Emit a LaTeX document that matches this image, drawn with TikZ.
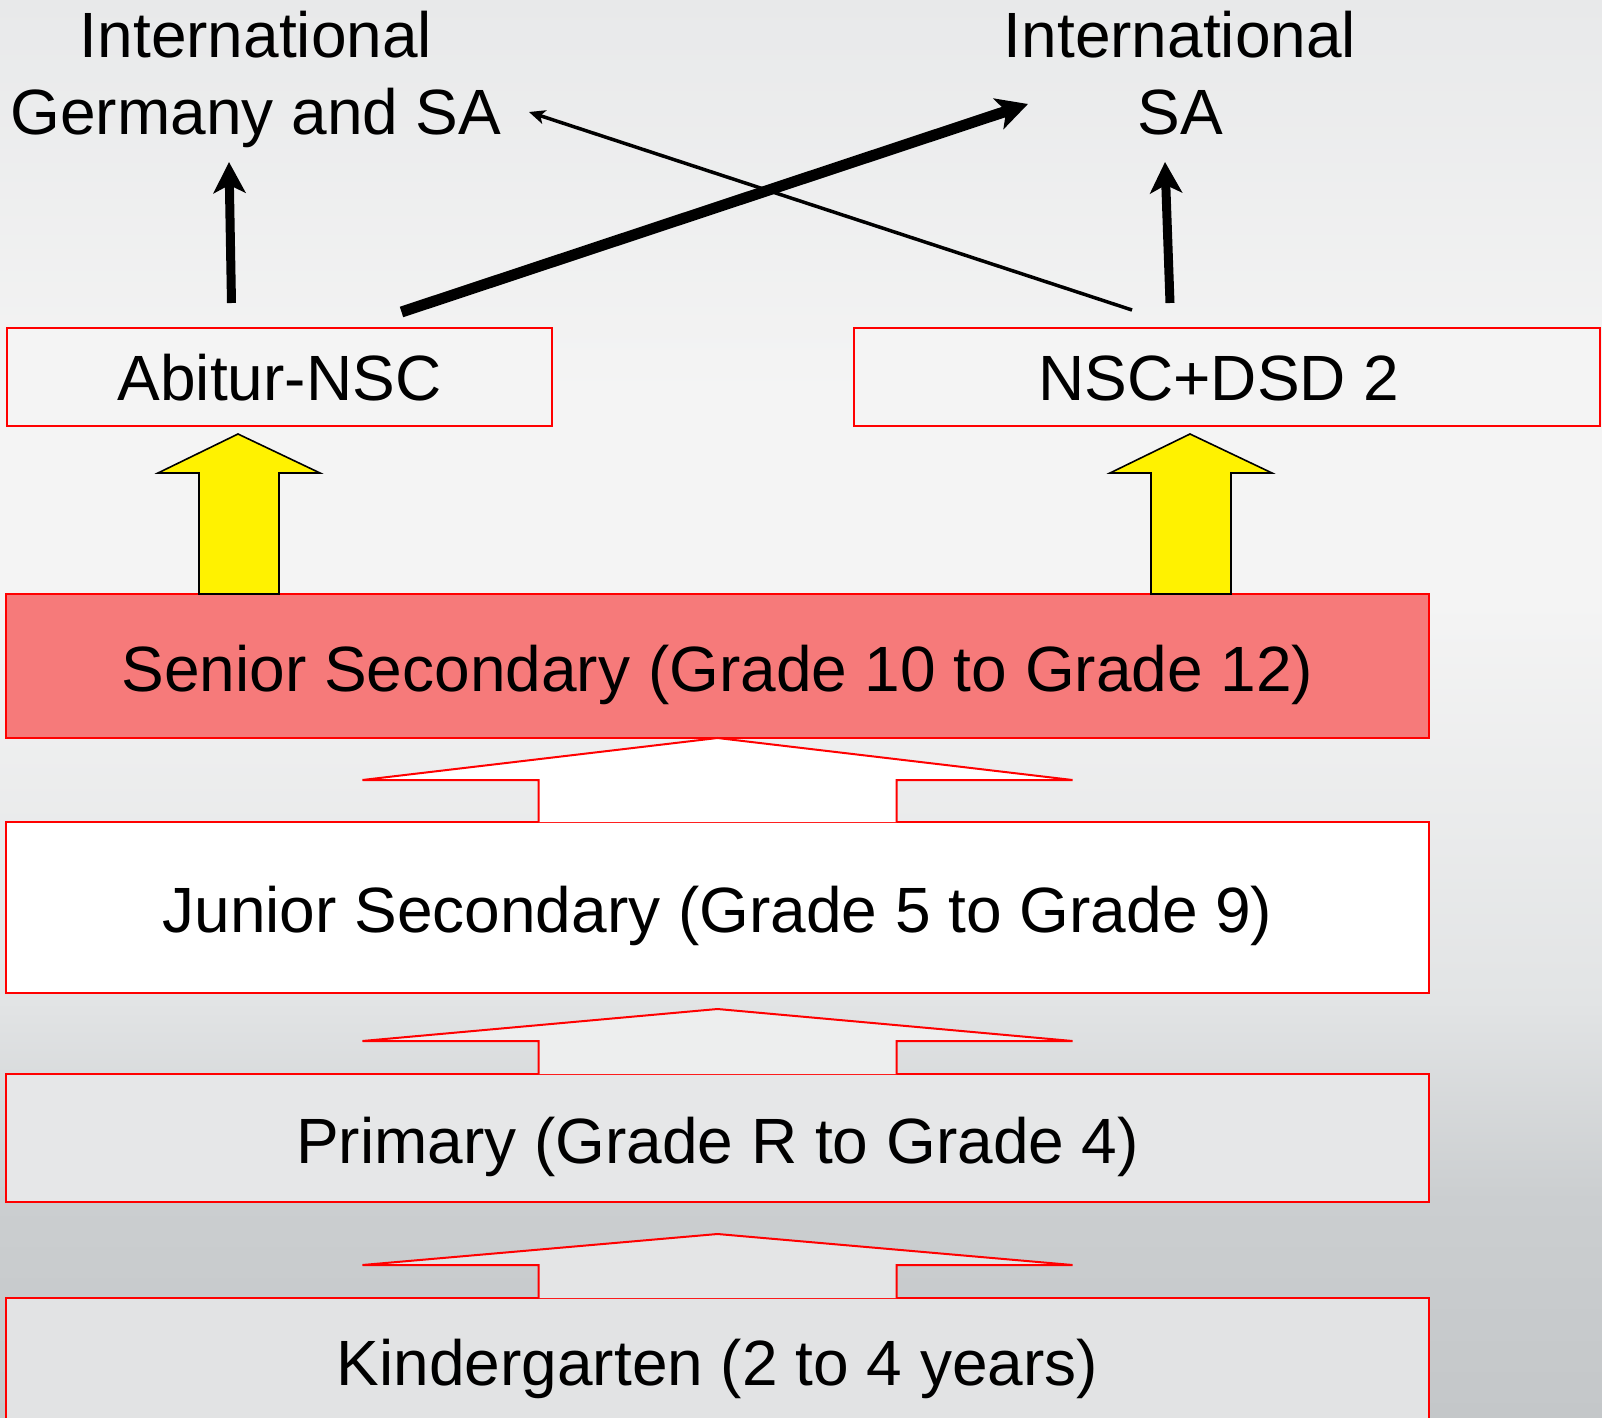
\documentclass[tikz,border=0pt]{standalone}
\usepackage{fontspec}
\setmainfont{Liberation Sans}
\usetikzlibrary{arrows.meta, positioning}

\definecolor{boxred}{RGB}{255,0,0}
\definecolor{seniorfill}{RGB}{246,122,122}
\definecolor{exitfill}{RGB}{244,244,244}
\definecolor{primaryfill}{RGB}{230,231,232}
\definecolor{kinderfill}{RGB}{226,227,228}
\definecolor{stepfillA}{RGB}{237,238,238}
\definecolor{stepfillB}{RGB}{228,229,230}
\definecolor{bgtop}{RGB}{232,233,234}
\definecolor{bglight}{RGB}{244,244,244}
\definecolor{bgmid}{RGB}{226,228,229}
\definecolor{bglow}{RGB}{203,206,208}
\definecolor{bgbottom}{RGB}{196,199,201}
\pgfdeclareverticalshading{slidebg}{100bp}{color(0bp)=(bgbottom); color(25bp)=(bgbottom); color(32.7bp)=(bglow); color(39.7bp)=(bgmid); color(53.8bp)=(bglight); color(61bp)=(bglight); color(75bp)=(bgtop); color(100bp)=(bgtop)}

\begin{document}
\begin{tikzpicture}[
    x=0.5pt, y=-0.5pt,
    stage/.style={draw=boxred, line width=1.2pt, inner sep=0pt, outer sep=0pt, minimum width=711.5pt, text height=25pt, text depth=0pt, font=\fontsize{32}{38.5}\selectfont},
    exit/.style={draw=boxred, line width=1.2pt, inner sep=0pt, outer sep=0pt, minimum height=49pt, text height=23pt, text depth=0pt, fill=exitfill, font=\fontsize{32}{38.5}\selectfont},
    dest/.style={align=center, inner sep=0pt, font=\fontsize{32}{38.5}\selectfont},
    fatarrow/.style={-{Stealth[length=15.5pt, width=16pt, inset=4pt]}, line width=4.5pt},
    thinarrow/.style={-{Stealth[length=8pt, width=7pt, inset=2pt]}, line width=1.75pt},
    blockarrow/.style={draw=black, line width=0.8pt, fill=yellow},
    steparrow/.style={draw=boxred, line width=1pt}
  ]
  \useasboundingbox (0,0) rectangle (1602,1418);
  \shade[shading=slidebg] (0,0) rectangle (1602,1418);

  % school stages
  \node[stage, fill=seniorfill, minimum height=72pt] (senior) at (717.5,666) {Senior Secondary (Grade 10 to Grade 12)};
  \node[stage, fill=white, minimum height=85.5pt, below=42pt of senior] (junior) {Junior Secondary (Grade 5 to Grade 9)};
  \node[stage, fill=primaryfill, minimum height=64pt, below=40.5pt of junior] (primary) {Primary (Grade R to Grade 4)};
  \node[stage, fill=kinderfill, minimum height=62pt, below=48pt of primary] (kinder) {Kindergarten (2 to 4 years)};

  % exams and destinations
  \node[exit, minimum width=272.5pt, above right=84pt and 0.5pt of senior.north west] (abitur) {Abitur-NSC};
  \node[exit, minimum width=373pt, right=151pt of abitur] (nsc) {NSC+DSD 2\kern8pt};
  \node[dest, anchor=north] (intlG) at (256,11) {International\\Germany and SA};
  \node[dest, anchor=north] (intlSA) at (1180,11) {International\\SA};

  % stage to stage
  \draw[steparrow, fill=white] ([shift={(-179,0)}]junior.north) |- ([shift={(-355,42)}]senior.south) -- (senior.south) -- ([shift={(355,42)}]senior.south) -| ([shift={(179,0)}]junior.north);
  \draw[steparrow, fill=stepfillA] ([shift={(-179,0)}]primary.north) |- ([shift={(-355,48)}]junior.south) -- ([shift={(0,16)}]junior.south) -- ([shift={(355,48)}]junior.south) -| ([shift={(179,0)}]primary.north);
  \draw[steparrow, fill=stepfillB] ([shift={(-179,0)}]kinder.north) |- ([shift={(-355,63)}]primary.south) -- ([shift={(0,32)}]primary.south) -- ([shift={(355,63)}]primary.south) -| ([shift={(179,0)}]kinder.north);

  % senior to exams
  \draw[blockarrow] ([shift={(-518.5,0)}]senior.north) -- ++(0,-121) -- ++(-41,0) -- ++(80,-39) -- ++(82,39) -- ++(-41,0) -- ++(0,121) -- cycle;
  \draw[blockarrow] ([shift={(433.5,0)}]senior.north) -- ++(0,-121) -- ++(-41,0) -- ++(80,-39) -- ++(82,39) -- ++(-41,0) -- ++(0,121) -- cycle;

  % exams to destinations
  \draw[fatarrow] ([shift={(-48,-25)}]abitur.north) -- ([shift={(-27,151)}]intlG.north);
  \draw[fatarrow] ([shift={(-57,-25)}]nsc.north) -- ([shift={(-15,151)}]intlSA.north);
  \draw[fatarrow, line width=5.5pt] ([shift={(122,-16)}]abitur.north) -- ([shift={(-152,93)}]intlSA.north);
  \draw[thinarrow] ([shift={(-95,-18)}]nsc.north) -- ([shift={(273,101)}]intlG.north);
\end{tikzpicture}
\end{document}
